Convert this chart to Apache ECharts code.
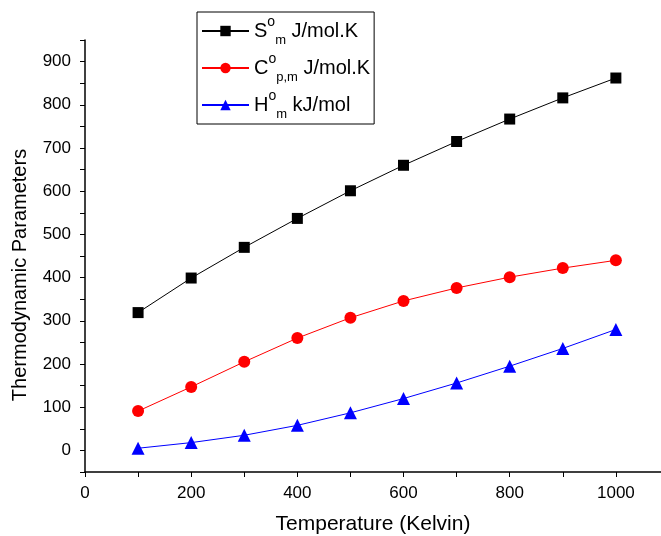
<!DOCTYPE html>
<html>
<head>
<meta charset="utf-8">
<script src="https://cdn.jsdelivr.net/npm/echarts@6/dist/echarts.min.js"></script>
<style>
  html, body { margin: 0; padding: 0; background: #fff; }
  #chart { width: 661px; height: 536px; }
</style>
</head>
<body>
<div id="chart"></div>
<script>
// temperature (K)
const temps = [100, 200, 300, 400, 500, 600, 700, 800, 900, 1000];
// entropy S°m J/mol.K
const entropy = [319, 399, 470, 537, 601, 660, 715, 767, 816, 862];
// heat capacity C°p,m J/mol.K
const heatCap = [91, 147, 205, 260, 307, 346, 376, 401, 422, 440];
// enthalpy H°m kJ/mol
const enthalpy = [5, 18, 35, 58, 87, 120, 156, 195, 236, 280];

const legendNames = ['S', 'C', 'H'];
const legendLabels = {
  S: '{b|S}{sup|o}{sub|m}{b| J/mol.K}',
  C: '{b|C}{sup|o}{sub|p,m}{b| J/mol.K}',
  H: '{b|H}{sup|o}{sub|m}{b| kJ/mol}'
};

function pairs(vals) {
  return temps.map((t, i) => [t, vals[i]]);
}

const chart = echarts.init(document.getElementById('chart'));

const FONT = 'Liberation Sans, Arial, sans-serif';
const axisFont = { fontFamily: FONT, fontSize: 17, color: '#000' };

let option = {
  animation: false,
  backgroundColor: '#fff',
  grid: { left: 85, top: 40, right: 0, bottom: 64, outerBoundsMode: 'none', containLabel: false },
  graphic: [{
    type: 'text',
    x: 20,
    y: 275,
    rotation: Math.PI / 2,
    style: {
      text: 'Thermodynamic Parameters',
      fontFamily: FONT,
      fontSize: 20,
      fill: '#000',
      align: 'center',
      verticalAlign: 'middle'
    }
  }],
  legend: {
    orient: 'vertical',
    left: 197,
    top: 12,
    padding: [3, 4, 3, 4],
    itemGap: 5,
    itemWidth: 47,
    itemHeight: 13,
    borderColor: '#000',
    borderWidth: 1,
    data: legendNames,
    formatter: name => legendLabels[name],
    textStyle: {
      fontFamily: FONT,
      color: '#000',
      rich: {
        b: { fontSize: 20, lineHeight: 32, fontFamily: FONT, color: '#000' },
        sup: { fontSize: 14, lineHeight: 32, verticalAlign: 'top', fontFamily: FONT, color: '#000' },
        sub: { fontSize: 13, lineHeight: 32, verticalAlign: 'bottom', padding: [16, 0, 0, 0], fontFamily: FONT, color: '#000' }
      }
    }
  },
  xAxis: {
    type: 'value',
    min: 0,
    max: 1085,
    interval: 100,
    name: 'Temperature (Kelvin)',
    nameLocation: 'middle',
    nameGap: 42,
    nameTextStyle: { fontFamily: FONT, fontSize: 21, color: '#000' },
    splitLine: { show: false },
    axisLine: { onZero: false, lineStyle: { color: '#000', width: 1.5 } },
    axisTick: { length: 5, lineStyle: { color: '#000' } },
    axisLabel: Object.assign({
      margin: 13,
      showMaxLabel: false,
      formatter: v => (v % 200 === 0 ? String(v) : '')
    }, axisFont)
  },
  yAxis: {
    type: 'value',
    min: -50,
    max: 950,
    interval: 50,
    splitLine: { show: false },
    axisLine: { onZero: false, lineStyle: { color: '#000', width: 1.5 } },
    axisTick: { length: 5, lineStyle: { color: '#000' } },
    axisLabel: Object.assign({
      margin: 14,
      formatter: v => (v >= 0 && v % 100 === 0 && v <= 900 ? String(v) : '')
    }, axisFont)
  },
  series: [
    {
      name: 'S',
      type: 'line',
      data: pairs(entropy),
      symbol: 'rect',
      symbolSize: 11,
      itemStyle: { color: '#000' },
      lineStyle: { color: '#000', width: 1 }
    },
    {
      name: 'C',
      type: 'line',
      data: pairs(heatCap),
      symbol: 'circle',
      symbolSize: 12,
      itemStyle: { color: '#ff0000' },
      lineStyle: { color: '#ff0000', width: 1 }
    },
    {
      name: 'H',
      type: 'line',
      data: pairs(enthalpy),
      symbol: 'triangle',
      symbolSize: 13,
      itemStyle: { color: '#0000ff' },
      lineStyle: { color: '#0000ff', width: 1 }
    }
  ]
};

chart.setOption(option);
</script>
</body>
</html>
